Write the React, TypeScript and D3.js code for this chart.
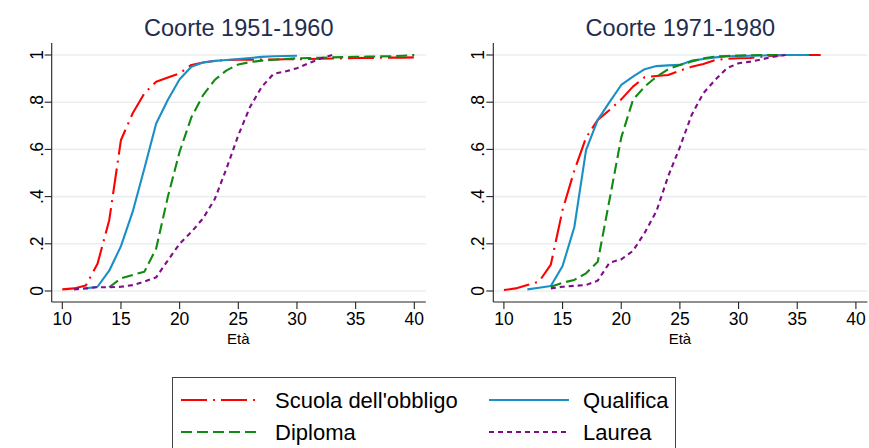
import React from "react";
import * as d3 from "d3";

// ---------- data ----------
const seriesNames = ["Scuola dell'obbligo", "Qualifica", "Diploma", "Laurea"];
const panelTitles = ["Coorte 1951-1960", "Coorte 1971-1980"];
const xTicks = [10, 15, 20, 25, 30, 35, 40];
const yTicks = [0, 0.2, 0.4, 0.6, 0.8, 1];
const yTickLabels = ["0", ".2", ".4", ".6", ".8", "1"];

// Coorte 1951-1960
const agesObbligo1 = [10, 11, 12, 13, 14, 15, 16, 17, 18, 19, 20, 21, 22, 23, 24, 25, 26, 27, 28, 29, 30, 31, 32, 33, 34, 35, 36, 37, 38, 39, 40];
const valObbligo1 = [0.007, 0.011, 0.023, 0.115, 0.3, 0.64, 0.753, 0.838, 0.887, 0.905, 0.922, 0.958, 0.968, 0.975, 0.979, 0.98, 0.98, 0.981, 0.981, 0.982, 0.982, 0.983, 0.984, 0.985, 0.986, 0.987, 0.988, 0.988, 0.989, 0.989, 0.99];
const agesQualifica1 = [12, 13, 14, 15, 16, 17, 18, 19, 20, 21, 22, 23, 24, 25, 26, 27, 28, 29, 30];
const valQualifica1 = [0.011, 0.018, 0.086, 0.19, 0.336, 0.52, 0.71, 0.81, 0.897, 0.95, 0.968, 0.975, 0.979, 0.983, 0.987, 0.992, 0.995, 0.996, 0.997];
const agesDiploma1 = [14, 15, 16, 17, 18, 19, 20, 21, 22, 23, 24, 25, 26, 27, 28, 29, 30, 31, 32, 33, 34, 35, 36, 37, 38, 39, 40];
const valDiploma1 = [0.016, 0.054, 0.068, 0.082, 0.18, 0.4, 0.59, 0.736, 0.83, 0.895, 0.935, 0.96, 0.97, 0.976, 0.98, 0.983, 0.986, 0.987, 0.988, 0.99, 0.991, 0.992, 0.993, 0.994, 0.995, 0.997, 1.0];
const agesLaurea1 = [11, 12, 13, 14, 15, 16, 17, 18, 19, 20, 21, 22, 23, 24, 25, 26, 27, 28, 29, 30, 31, 32, 33];
const valLaurea1 = [0.007, 0.011, 0.016, 0.016, 0.018, 0.025, 0.04, 0.058, 0.13, 0.2, 0.25, 0.308, 0.39, 0.52, 0.66, 0.78, 0.865, 0.92, 0.93, 0.944, 0.965, 0.985, 1.0];

// Coorte 1971-1980
const agesObbligo2 = [10, 11, 12, 13, 14, 15, 16, 17, 18, 19, 20, 21, 22, 23, 24, 25, 26, 27, 28, 29, 30, 31, 32, 33, 34, 35, 36, 37];
const valObbligo2 = [0.004, 0.011, 0.025, 0.04, 0.112, 0.343, 0.51, 0.65, 0.725, 0.767, 0.812, 0.866, 0.906, 0.911, 0.915, 0.934, 0.95, 0.962, 0.978, 0.984, 0.986, 0.987, 0.993, 0.997, 1.0, 1.0, 1.0, 1.0];
const agesQualifica2 = [12, 13, 14, 15, 16, 17, 18, 19, 20, 21, 22, 23, 24, 25, 26, 27, 28, 29, 30, 31, 32, 33, 34, 35, 36];
const valQualifica2 = [0.007, 0.014, 0.021, 0.106, 0.27, 0.597, 0.725, 0.8, 0.873, 0.908, 0.94, 0.953, 0.956, 0.958, 0.976, 0.983, 0.99, 0.994, 0.996, 0.997, 0.998, 0.999, 1.0, 1.0, 1.0];
const agesDiploma2 = [14, 15, 16, 17, 18, 19, 20, 21, 22, 23, 24, 25, 26, 27, 28, 29, 30, 31, 32, 33, 34];
const valDiploma2 = [0.018, 0.035, 0.047, 0.075, 0.124, 0.386, 0.65, 0.81, 0.866, 0.908, 0.94, 0.958, 0.972, 0.986, 0.993, 0.996, 0.998, 0.999, 1.0, 1.0, 1.0];
const agesLaurea2 = [14, 15, 16, 17, 18, 19, 20, 21, 22, 23, 24, 25, 26, 27, 28, 29, 30, 31, 32, 33, 34];
const valLaurea2 = [0.011, 0.018, 0.022, 0.025, 0.044, 0.12, 0.134, 0.17, 0.247, 0.338, 0.486, 0.61, 0.746, 0.838, 0.894, 0.944, 0.965, 0.972, 0.982, 0.993, 1.0];

// ---------- styles ----------
const colors = ["#ff0000", "#1a8fc6", "#118a11", "#800c88"];
const dashes = ["26,6,2,6", "", "11,5", "5,4"];
const FONT = "'Liberation Sans', Arial, Helvetica, sans-serif";

type Pt = { x: number; y: number };
const zip = (a: number[], b: number[]): Pt[] => a.map((x, i) => ({ x, y: b[i] }));

const panels = [
  {
    title: panelTitles[0],
    left: 51.7,
    series: [
      zip(agesObbligo1, valObbligo1),
      zip(agesQualifica1, valQualifica1),
      zip(agesDiploma1, valDiploma1),
      zip(agesLaurea1, valLaurea1),
    ],
  },
  {
    title: panelTitles[1],
    left: 493.3,
    series: [
      zip(agesObbligo2, valObbligo2),
      zip(agesQualifica2, valQualifica2),
      zip(agesDiploma2, valDiploma2),
      zip(agesLaurea2, valLaurea2),
    ],
  },
];

function Panel({ p }: { p: (typeof panels)[number] }) {
  const x0 = p.left;
  const xs = d3.scaleLinear().domain([10, 40]).range([x0 + 10.6, x0 + 362.6]);
  const ys = d3.scaleLinear().domain([0, 1]).range([291, 55]);
  const axisRight = xs(40) + 11.5;
  const axisBottom = 302;
  const axisTop = 43;
  const line = d3
    .line<Pt>()
    .x((d) => xs(d.x))
    .y((d) => ys(d.y));
  const cx = (x0 + axisRight) / 2;
  return (
    <g>
      <text x={cx} y={36} textAnchor="middle" fontSize={23.5} fill="#1e2d50" fontFamily={FONT}>
        {p.title}
      </text>
      {yTicks.map((t) => (
        <line key={"g" + t} x1={x0} x2={axisRight} y1={ys(t)} y2={ys(t)} stroke="#e9eff1" strokeWidth={1.6} />
      ))}
      {p.series.map((s, i) => (
        <path
          key={i}
          d={line(s) || ""}
          fill="none"
          stroke={colors[i]}
          strokeWidth={2.1}
          strokeDasharray={dashes[i] || undefined}
          strokeLinejoin="round"
        />
      ))}
      <line x1={x0} x2={x0} y1={axisTop} y2={axisBottom} stroke="#222" strokeWidth={1.1} />
      <line x1={x0} x2={axisRight} y1={axisBottom} y2={axisBottom} stroke="#222" strokeWidth={1.1} />
      {yTicks.map((t, i) => (
        <g key={"y" + t}>
          <line x1={x0 - 7} x2={x0} y1={ys(t)} y2={ys(t)} stroke="#222" strokeWidth={1.1} />
          <text
            transform={`translate(${x0 - 9},${ys(t)}) rotate(-90)`}
            textAnchor="middle"
            fontSize={17.5}
            fill="#000"
            fontFamily={FONT}
          >
            {yTickLabels[i]}
          </text>
        </g>
      ))}
      {xTicks.map((t) => (
        <g key={"x" + t}>
          <line x1={xs(t)} x2={xs(t)} y1={axisBottom} y2={axisBottom + 7} stroke="#222" strokeWidth={1.1} />
          <text x={xs(t)} y={325} textAnchor="middle" fontSize={17.5} fill="#000" fontFamily={FONT}>
            {t}
          </text>
        </g>
      ))}
      <text x={xs(25)} y={344} textAnchor="middle" fontSize={15} fill="#000" fontFamily={FONT}>
        Età
      </text>
    </g>
  );
}

function Legend() {
  const rows = [
    { y: 400, items: [0, 1] },
    { y: 432, items: [2, 3] },
  ];
  const colX = [181, 489];
  const lineLen = 80;
  return (
    <g>
      <rect x={172.5} y={377.5} width={503} height={80} fill="#fff" stroke="#444" strokeWidth={1} />
      {rows.map((r) =>
        r.items.map((idx, c) => (
          <g key={idx}>
            <line
              x1={colX[c]}
              x2={colX[c] + lineLen}
              y1={r.y}
              y2={r.y}
              stroke={colors[idx]}
              strokeWidth={2.2}
              strokeDasharray={dashes[idx] || undefined}
            />
            <text x={colX[c] + 94} y={r.y + 8} fontSize={22} fill="#000" fontFamily={FONT}>
              {seriesNames[idx]}
            </text>
          </g>
        ))
      )}
    </g>
  );
}

export default function App() {
  return (
    <svg
      width={869}
      height={448}
      viewBox="0 0 869 448"
      style={{ position: "absolute", left: 0, top: 0, background: "#fff" }}
    >
      <rect x={0} y={0} width={869} height={448} fill="#fff" />
      {panels.map((p, i) => (
        <Panel key={i} p={p} />
      ))}
      <Legend />
    </svg>
  );
}
